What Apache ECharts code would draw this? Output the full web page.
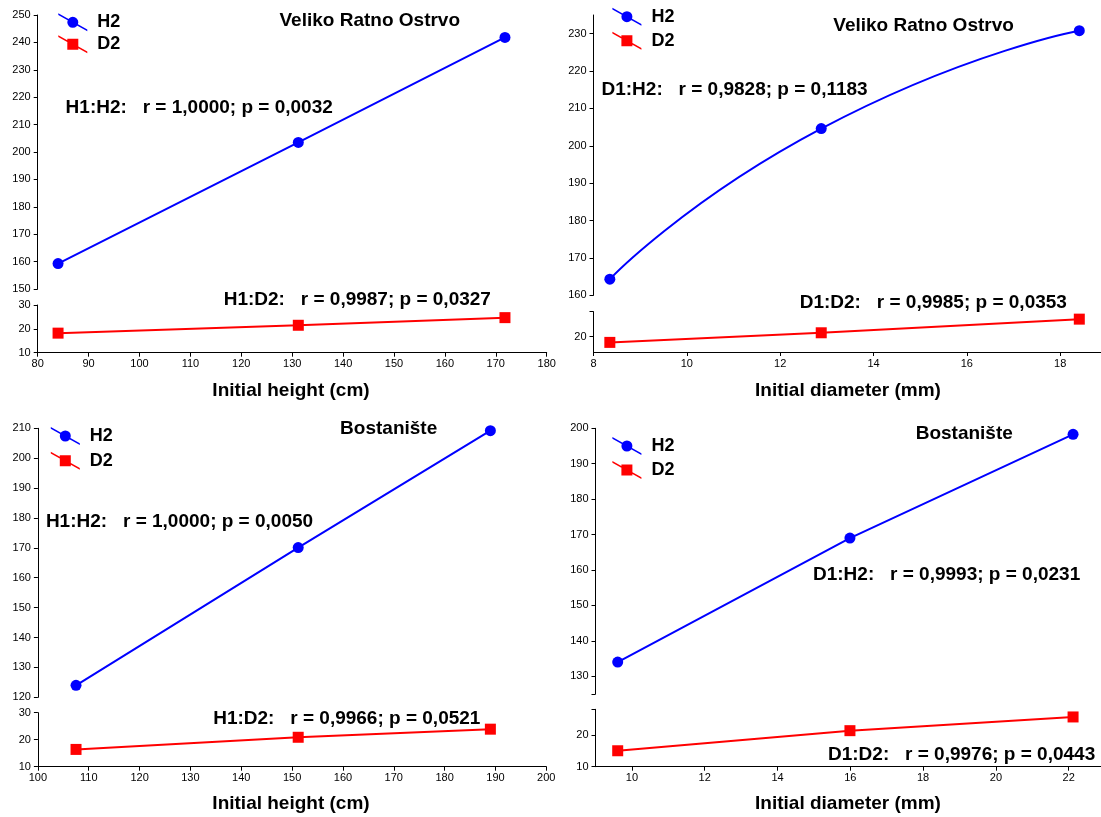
<!DOCTYPE html>
<html><head><meta charset="utf-8">
<script src="https://cdn.jsdelivr.net/npm/echarts@6.0.0/dist/echarts.min.js"></script>
<style>html,body{margin:0;padding:0;background:#fff}#c{width:1101px;height:817px}</style>
</head><body><div id="c"></div>
<script>
// ---------- DATA ----------
// Panel 1: Veliko Ratno Ostrvo, initial height
const p1X  = [84.0, 131.2, 171.8];
const p1H2 = [159.3, 203.5, 241.8];
const p1D2 = [18.2, 21.5, 24.7];
// Panel 2: Veliko Ratno Ostrvo, initial diameter
const p2X  = [8.35, 12.88, 18.41];
const p2H2 = [164.3, 204.6, 230.8];
const p2D2 = [18.1, 21.2, 25.6];
// Panel 3: Bostaniste, initial height
const p3X  = [107.5, 151.2, 189.0];
const p3H2 = [124.0, 170.1, 209.2];
const p3D2 = [16.4, 20.9, 23.9];
// Panel 4: Bostaniste, initial diameter
const p4X  = [9.61, 15.99, 22.12];
const p4H2 = [134.0, 169.0, 198.3];
const p4D2 = [15.0, 21.3, 25.6];

const seriesNames = ['H2', 'D2'];
const panelTitles = ['Veliko Ratno Ostrvo', 'Veliko Ratno Ostrvo', 'Bostanište', 'Bostanište'];
const xTitles = ['Initial height (cm)', 'Initial diameter (mm)', 'Initial height (cm)', 'Initial diameter (mm)'];
const statsH2 = ['H1:H2:   r = 1,0000; p = 0,0032', 'D1:H2:   r = 0,9828; p = 0,1183',
                 'H1:H2:   r = 1,0000; p = 0,0050', 'D1:H2:   r = 0,9993; p = 0,0231'];
const statsD2 = ['H1:D2:   r = 0,9987; p = 0,0327', 'D1:D2:   r = 0,9985; p = 0,0353',
                 'H1:D2:   r = 0,9966; p = 0,0521', 'D1:D2:   r = 0,9976; p = 0,0443'];

// tick labels
const p1XTicks = [80, 90, 100, 110, 120, 130, 140, 150, 160, 170, 180];
const p1UpLabels = [150, 160, 170, 180, 190, 200, 210, 220, 230, 240, 250];
const p1LoLabels = [10, 20, 30];
const p2XTicks = [8, 10, 12, 14, 16, 18, 20];
const p2UpLabels = [160, 170, 180, 190, 200, 210, 220, 230];
const p2LoLabels = [20];
const p2LoTicks = [20, 28];
const p3XTicks = [100, 110, 120, 130, 140, 150, 160, 170, 180, 190, 200];
const p3UpLabels = [120, 130, 140, 150, 160, 170, 180, 190, 200, 210];
const p3LoLabels = [10, 20, 30];
const p4XTicks = [10, 12, 14, 16, 18, 20, 22, 24];
const p4UpLabels = [130, 140, 150, 160, 170, 180, 190, 200];
const p4UpTicks = [125, 130, 140, 150, 160, 170, 180, 190, 200];
const p4LoLabels = [10, 20];
const p4LoTicks = [10, 20, 28];

// ---------- LAYOUT ----------
const FONT = '"Liberation Sans", Arial, sans-serif';
const panels = [
  { x: p1X, h2: p1H2, d2: p1D2, xr: [80, 180], xt: p1XTicks, xl: p1XTicks,
    up: [150, 250], upL: p1UpLabels, upT: p1UpLabels, lo: [10, 30], loL: p1LoLabels, loT: p1LoLabels,
    left: 37.7, width: 509, upTop: 15, upH: 274, loTop: 305, loH: 47.7, smooth: false,
    leg: [58.3, 13.3, 4], title: [279.5, 21], sH2: [65.6, 108], sD2: [223.7, 300], xT: [291, 391] },
  { x: p2X, h2: p2H2, d2: p2D2, xr: [8, 20], xt: p2XTicks, xl: p2XTicks,
    up: [160, 235], upL: p2UpLabels, upT: p2UpLabels, lo: [15, 28], loL: p2LoLabels, loT: p2LoTicks,
    left: 593.5, width: 560, upTop: 15, upH: 280.3, loTop: 311.7, loH: 40.3, smooth: 0.6,
    leg: [612.4, 7.7, 6], title: [833.3, 25.5], sH2: [601.5, 90], sD2: [799.7, 303], xT: [848, 391] },
  { x: p3X, h2: p3H2, d2: p3D2, xr: [100, 200], xt: p3XTicks, xl: p3XTicks,
    up: [120, 210], upL: p3UpLabels, upT: p3UpLabels, lo: [10, 30], loL: p3LoLabels, loT: p3LoLabels,
    left: 37.9, width: 508.4, upTop: 428.3, upH: 269, loTop: 712.7, loH: 54, smooth: false,
    leg: [50.8, 427, 6.7], title: [340.1, 428.5], sH2: [45.9, 522], sD2: [213.2, 718.5], xT: [291, 803.5] },
  { x: p4X, h2: p4H2, d2: p4D2, xr: [9, 24], xt: p4XTicks, xl: p4XTicks,
    up: [125, 200], upL: p4UpLabels, upT: p4UpTicks, lo: [10, 28], loL: p4LoLabels, loT: p4LoTicks,
    left: 595.5, width: 546, upTop: 428.3, upH: 265.7, loTop: 709.3, loH: 57.4, smooth: false,
    leg: [612.4, 437, 6], title: [915.7, 434], sH2: [813, 575], sD2: [828, 755], xT: [848, 803.5] }
];

const BLUE = '#0000FF', RED = '#FF0000';
const band = 'M0 0 L29 16.2 L29 18 L0 1.8 Z';
const iconH2 = 'path://' + band + ' M20 9 A5.5 5.5 0 1 1 9 9 A5.5 5.5 0 1 1 20 9 Z';
const iconD2 = 'path://' + band + ' M9 3.5 L20 3.5 L20 14.5 L9 14.5 Z';

const grid = [], xAxis = [], yAxis = [], series = [], legend = [], graphic = [];
const axisLabelBase = { color: '#000', fontSize: 11, fontFamily: FONT };
const axisLineBase = { show: true, lineStyle: { color: '#000', width: 1 } };

panels.forEach((p, i) => {
  const gUp = grid.length;
  grid.push({ left: p.left, top: p.upTop, width: p.width, height: p.upH, containLabel: false, outerBoundsMode: 'none' });
  grid.push({ left: p.left, top: p.loTop, width: p.width, height: p.loH, containLabel: false, outerBoundsMode: 'none' });
  xAxis.push({ type: 'value', gridIndex: gUp, min: p.xr[0], max: p.xr[1], show: false });
  xAxis.push({ type: 'value', gridIndex: gUp + 1, min: p.xr[0], max: p.xr[1], position: 'bottom',
    axisLine: axisLineBase, splitLine: { show: false },
    axisTick: { show: true, length: 4, customValues: p.xt, lineStyle: { color: '#000' } },
    axisLabel: Object.assign({ margin: 6, customValues: p.xl, hideOverlap: false }, axisLabelBase) });
  yAxis.push({ type: 'value', gridIndex: gUp, min: p.up[0], max: p.up[1],
    axisLine: axisLineBase, splitLine: { show: false },
    axisTick: { show: true, length: 4, customValues: p.upT, lineStyle: { color: '#000' } },
    axisLabel: Object.assign({ margin: 7, customValues: p.upL }, axisLabelBase) });
  yAxis.push({ type: 'value', gridIndex: gUp + 1, min: p.lo[0], max: p.lo[1],
    axisLine: axisLineBase, splitLine: { show: false },
    axisTick: { show: true, length: 4, customValues: p.loT, lineStyle: { color: '#000' } },
    axisLabel: Object.assign({ margin: 7, customValues: p.loL }, axisLabelBase) });

  series.push({ name: seriesNames[0], type: 'line', xAxisIndex: gUp, yAxisIndex: gUp,
    data: p.x.map((v, k) => [v, p.h2[k]]), smooth: p.smooth, symbol: 'circle', symbolSize: 11,
    clip: false, lineStyle: { color: BLUE, width: 2 }, itemStyle: { color: BLUE }, z: 3 });
  series.push({ name: seriesNames[1], type: 'line', xAxisIndex: gUp + 1, yAxisIndex: gUp + 1,
    data: p.x.map((v, k) => [v, p.d2[k]]), smooth: false, symbol: 'rect', symbolSize: 11,
    clip: false, lineStyle: { color: RED, width: 2 }, itemStyle: { color: RED }, z: 3 });

  legend.push({ left: p.leg[0], top: p.leg[1], orient: 'vertical', padding: 0, itemGap: p.leg[2],
    itemWidth: 29, itemHeight: 18, selectedMode: false,
    data: [{ name: seriesNames[0], icon: iconH2 }, { name: seriesNames[1], icon: iconD2 }],
    textStyle: { color: '#000', fontSize: 18, fontWeight: 'bold', fontFamily: FONT, padding: [0, 0, 0, 5] } });

  const txt = (x, y, t, align) => ({ type: 'text', x: x, y: y, silent: true,
    style: { text: t, fill: '#000', font: 'bold 19px ' + FONT, align: align || 'left', verticalAlign: 'middle' } });
  graphic.push(txt(p.title[0], p.title[1], panelTitles[i]));
  graphic.push(txt(p.sH2[0], p.sH2[1], statsH2[i]));
  graphic.push(txt(p.sD2[0], p.sD2[1], statsD2[i]));
  graphic.push(txt(p.xT[0], p.xT[1], xTitles[i], 'center'));
});

const chart = echarts.init(document.getElementById('c'), null, { renderer: 'canvas' });
chart.setOption({ animation: false, backgroundColor: '#fff', grid, xAxis, yAxis, series, legend, graphic });
</script></body></html>
